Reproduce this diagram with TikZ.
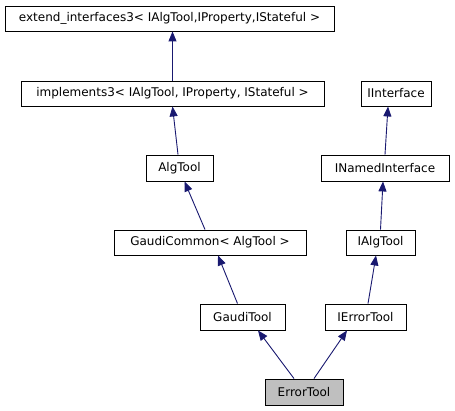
\documentclass[tikz,border=0pt]{standalone}
\usepackage{fontspec}
\setmainfont{DejaVu Sans}
\usetikzlibrary{arrows.meta}
\definecolor{edgeblue}{RGB}{25,25,112}
\definecolor{boxgray}{RGB}{191,191,191}
\begin{document}
\begin{tikzpicture}[x=1pt,y=-1pt,
  cls/.style={draw=black,fill=white,line width=0.9pt,inner sep=0pt,font=\fontsize{12}{14}\selectfont},
  inh/.style={draw=edgeblue,line width=0.9pt,-{Triangle[length=10pt,width=8pt]}},
]
\useasboundingbox (0,0) rectangle (455,411);
\node[cls,minimum width=329pt,minimum height=25pt] (ext) at (169.5,18.5) {extend\_interfaces3< IAlgTool,IProperty,IStateful >};
\node[cls,minimum width=303pt,minimum height=25pt] (impl) at (172.5,93.5) {implements3< IAlgTool, IProperty, IStateful >};
\node[cls,minimum width=70pt,minimum height=25pt] (iint) at (396,93.5) {IInterface};
\node[cls,minimum width=67pt,minimum height=26pt] (alg) at (179.5,168) {AlgTool};
\node[cls,minimum width=128pt,minimum height=26pt] (inamed) at (385,168) {INamedInterface};
\node[cls,minimum width=192pt,minimum height=25pt] (gc) at (210,242.5) {GaudiCommon< AlgTool >};
\node[cls,minimum width=69pt,minimum height=25pt] (ialg) at (380.5,242.5) {IAlgTool};
\node[cls,minimum width=85pt,minimum height=26pt] (gt) at (242.5,317) {GaudiTool};
\node[cls,minimum width=81pt,minimum height=26pt] (iet) at (365.5,317) {IErrorTool};
\node[cls,fill=boxgray,minimum width=78pt,minimum height=26pt] (et) at (304,392) {ErrorTool};
\draw[inh] (impl.north) -- (ext.south -| impl.north);
\draw[inh] ([xshift=-1.5pt]alg.north) -- (impl.south);
\draw[inh] (inamed.north) -- ([xshift=-8pt]iint.south);
\draw[inh] ([xshift=-5pt]gc.north) -- ([xshift=5pt]alg.south);
\draw[inh] (ialg.north) -- ([xshift=-2pt]inamed.south);
\draw[inh] ([xshift=-5pt]gt.north) -- ([xshift=8pt]gc.south);
\draw[inh] ([xshift=2.5pt]iet.north) -- ([xshift=-4.5pt]ialg.south);
\draw[inh] ([xshift=-10pt]et.north) -- ([xshift=15.5pt]gt.south);
\draw[inh] ([xshift=10pt]et.north) -- ([xshift=-18.5pt]iet.south);
\end{tikzpicture}
\end{document}
